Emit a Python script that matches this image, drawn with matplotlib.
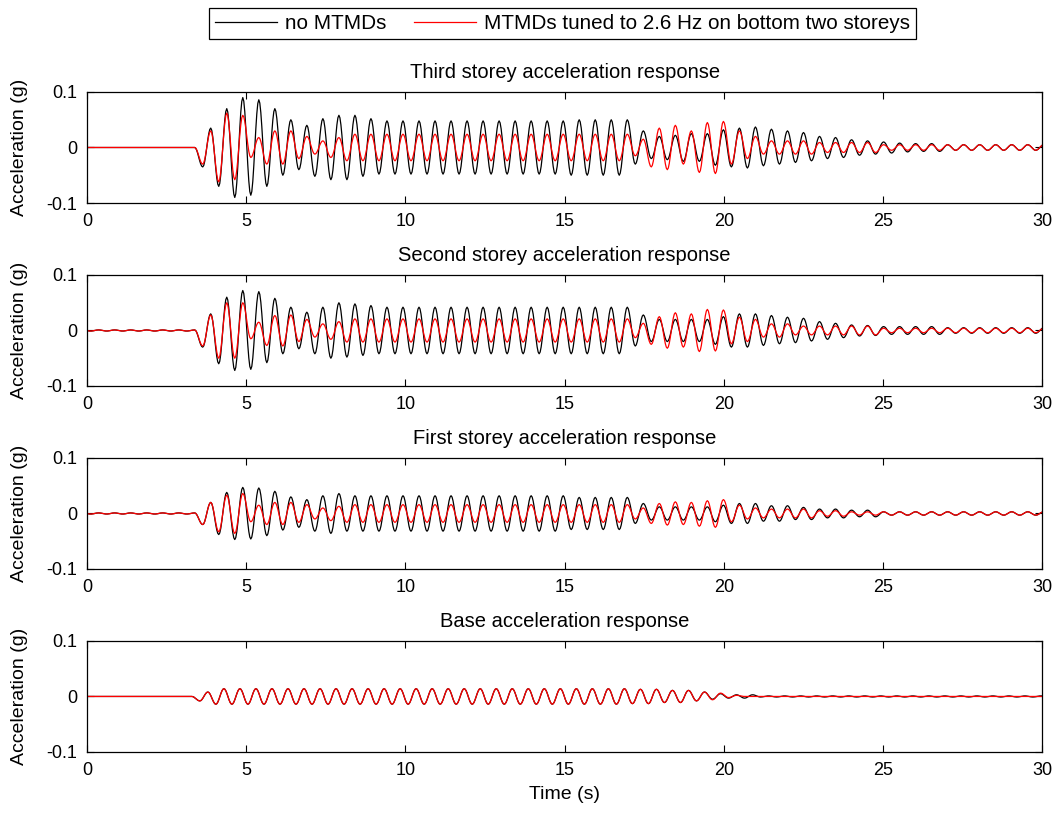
import numpy as np
import matplotlib
matplotlib.use('Agg')
import matplotlib.pyplot as plt

plt.rcParams['font.family'] = ['Liberation Sans', 'DejaVu Sans']

# amplitude envelopes (g), one value per 0.5 s bin from 0 to 30 s
third_none = ([0.0] * 7
              + [0.035, 0.07, 0.09, 0.086, 0.07, 0.05, 0.04, 0.052, 0.058, 0.058, 0.052]
              + [0.048] * 12 + [0.05] * 4
              + [0.03, 0.02, 0.022, 0.025, 0.025, 0.032, 0.035, 0.037, 0.033, 0.03,
                 0.027, 0.024, 0.02, 0.018, 0.014, 0.012, 0.01, 0.008, 0.007, 0.007]
              + [0.005] * 6)
third_mtmd = ([0.0] * 7
              + [0.03, 0.062, 0.058, 0.018, 0.03, 0.03, 0.02, 0.012, 0.018, 0.024]
              + [0.024] * 17
              + [0.015, 0.035, 0.04, 0.03, 0.045, 0.047, 0.03, 0.02]
              + [0.012] * 4 + [0.009] * 4 + [0.005] * 10)
second_none = ([0.001] * 7
               + [0.03, 0.06, 0.072, 0.07, 0.058, 0.042, 0.033, 0.042, 0.05, 0.048, 0.045]
               + [0.042] * 16
               + [0.028, 0.02, 0.02, 0.02, 0.02, 0.025, 0.03, 0.03, 0.027, 0.024,
                  0.022, 0.019, 0.016, 0.013, 0.01, 0.009]
               + [0.007] * 4 + [0.005] * 6)
second_mtmd = ([0.001] * 7
               + [0.028, 0.05, 0.05, 0.015, 0.027, 0.028, 0.02, 0.012, 0.016]
               + [0.021] * 18
               + [0.013, 0.025, 0.032, 0.03, 0.038, 0.037, 0.024, 0.02]
               + [0.012] * 2 + [0.008] * 6 + [0.004] * 10)
first_none = ([0.001] * 7
              + [0.02, 0.038, 0.047, 0.046, 0.04, 0.03, 0.025, 0.032, 0.036]
              + [0.032] * 14 + [0.029] * 4
              + [0.018, 0.012, 0.012, 0.012, 0.012, 0.015, 0.018, 0.018, 0.014, 0.014,
                 0.011, 0.011, 0.008, 0.008, 0.006, 0.006]
              + [0.003] * 10)
first_mtmd = ([0.001] * 7
              + [0.02, 0.033, 0.036, 0.015, 0.02, 0.02, 0.016, 0.01, 0.013]
              + [0.016] * 18
              + [0.01, 0.018, 0.021, 0.02, 0.023, 0.025, 0.015, 0.01]
              + [0.008] * 4 + [0.005] * 2 + [0.003] * 12)
base_none = ([0.0] * 7 + [0.008] + [0.014] * 26
             + [0.013, 0.013, 0.011, 0.011, 0.008, 0.005, 0.003, 0.003]
             + [0.001] * 18)
base_mtmd = ([0.0] * 7 + [0.008] + [0.014] * 26
             + [0.013, 0.013, 0.011, 0.011, 0.008, 0.006, 0.002, 0.0]
             + [0.0] * 18)

titles = ['Third storey acceleration response', 'Second storey acceleration response',
          'First storey acceleration response', 'Base acceleration response']
peak_times = [4.39, 4.39, 4.39, 4.30]  # time of one positive peak in each panel (s)
period = 0.503  # response period read from the peak spacing (s)
panels = [(third_none, third_mtmd), (second_none, second_mtmd),
          (first_none, first_mtmd), (base_none, base_mtmd)]


def trace(env, peak_t):
    # alternating peaks/troughs every half period, joined by half-cosine segments
    half = period / 2
    k = np.arange(-int(np.ceil(peak_t / half)), int((30 - peak_t) / half) + 2)
    te = peak_t + k * half
    env = np.asarray(env)
    bins = np.clip((te / 0.5).astype(int), 0, len(env) - 1)
    ve = np.where(k % 2 == 0, 1.0, -1.0) * env[bins]
    s = np.linspace(0, 1, 9)[:-1]
    w = (1 - np.cos(np.pi * s)) / 2
    t = (te[:-1, None] + half * s[None, :]).ravel()
    v = (ve[:-1, None] + (ve[1:] - ve[:-1])[:, None] * w[None, :]).ravel()
    return t, v


fig = plt.figure(figsize=(10.54, 8.14), dpi=100)
bottoms = [0.7506, 0.5258, 0.301, 0.0762]
lines = []
for i, (none, mtmd) in enumerate(panels):
    ax = fig.add_axes([0.0825, bottoms[i], 0.9065, 0.1364])
    t, v = trace(none, peak_times[i])
    l1, = ax.plot(t, v, color='black', lw=0.9)
    t, v = trace(mtmd, peak_times[i])
    l2, = ax.plot(t, v, color='#ff0000', lw=0.9)
    lines = [l1, l2]
    ax.set_xlim(0, 30)
    ax.set_ylim(-0.1, 0.1)
    ax.set_xticks([0, 5, 10, 15, 20, 25, 30])
    ax.set_yticks([-0.1, 0, 0.1])
    ax.set_yticklabels(['-0.1', '0', '0.1'])
    ax.tick_params(direction='in', top=True, right=True, length=5, labelsize=13)
    ax.tick_params(axis='x', pad=7)
    ax.tick_params(axis='y', pad=7)
    ax.set_ylabel('Acceleration (g)', fontsize=14)
    ax.yaxis.set_label_coords(-0.062, 0.5)
    ax.set_title(titles[i], fontsize=14.5, pad=10)
    for sp in ax.spines.values():
        sp.set_linewidth(0.9)
ax.set_xlabel('Time (s)', fontsize=14, labelpad=5)

leg = fig.legend(lines, ['no MTMDs', 'MTMDs tuned to 2.6 Hz on bottom two storeys'],
                 loc='center', bbox_to_anchor=(0.5337, 0.9711), ncol=2, fontsize=14.9,
                 fancybox=False, edgecolor='black', framealpha=1, handlelength=3.0,
                 handletextpad=0.4, columnspacing=1.3, borderpad=0.3, borderaxespad=0.3)
leg._legend_box.sep = 4
leg.get_frame().set_linewidth(0.9)

fig.savefig('out.png', dpi=100)
